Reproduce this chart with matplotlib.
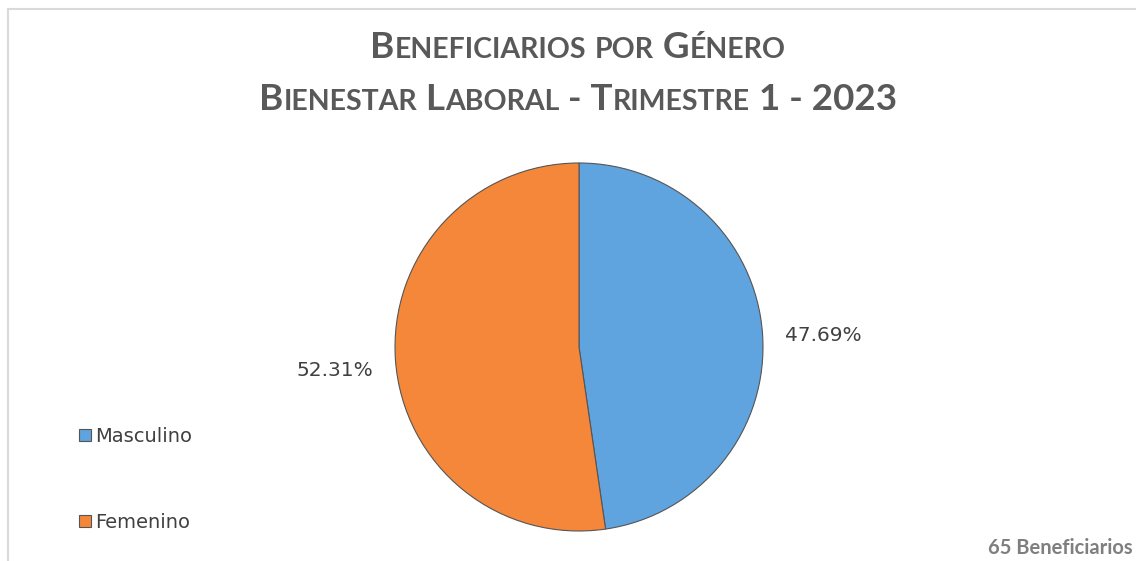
import matplotlib
matplotlib.use('Agg')
import matplotlib.pyplot as plt
from matplotlib.transforms import offset_copy

# data
categories = ['Masculino', 'Femenino']
counts = [31, 34]
colors = ['#5FA3DF', '#F5873A']
title_lines = ['Beneficiarios por Género', 'Bienestar Laboral - Trimestre 1 - 2023']
total_note = '65 Beneficiarios'

W, H = 1136, 561
fig = plt.figure(figsize=(W / 100, H / 100), dpi=100)
renderer = fig.canvas.get_renderer()

TITLE_FONT = 'Lato'
LABEL_FONT = 'DejaVu Sans'


def text_width(s, size):
    # width in pixels, keeping spaces by padding with bars
    t = fig.text(0, 0, '|' + s + '|', fontsize=size, fontweight='bold', family=TITLE_FONT)
    t2 = fig.text(0, 0, '||', fontsize=size, fontweight='bold', family=TITLE_FONT)
    w = t.get_window_extent(renderer).width - t2.get_window_extent(renderer).width
    t.remove()
    t2.remove()
    return w


def small_caps(line, y_px, big, small, color='#595959'):
    # split into runs of lower-case (drawn as small capitals) and the rest
    runs = []
    for ch in line:
        is_small = ch.islower()
        if runs and runs[-1][1] == is_small:
            runs[-1][0] += ch
        else:
            runs.append([ch, is_small])
    pieces = []
    for s, is_small in runs:
        size = small if is_small else big
        s = s.upper()
        pieces.append((s, size, text_width(s, size)))
    total = sum(p[2] for p in pieces)
    x = W / 2 - total / 2 + 10
    for s, size, w in pieces:
        fig.text(x / W, 1 - y_px / H, s, fontsize=size, fontweight='bold',
                 family=TITLE_FONT, color=color, ha='left', va='baseline')
        x += w


small_caps(title_lines[0], 58, 26.5, 20.5)
small_caps(title_lines[1], 110, 26.5, 20.5)

# pie
cx, cy, r = 579, 347, 184
ax = fig.add_axes([(cx - r) / W, (H - cy - r) / H, 2 * r / W, 2 * r / H])
wedges, _, autotexts = ax.pie(counts, colors=colors, startangle=90, counterclock=False,
                              autopct='%.2f%%', pctdistance=1.33, radius=1,
                              wedgeprops=dict(edgecolor='#555555', linewidth=0.8))
for w in wedges:
    w.set_clip_on(False)
for t in autotexts:
    t.set_fontsize(14.5)
    t.set_family(LABEL_FONT)
    t.set_color('#404040')
    t.set_transform(offset_copy(t.get_transform(), fig=fig, y=-6, units='dots'))
ax.set_xlim(-1, 1)
ax.set_ylim(-1, 1)
ax.set_aspect('equal')
ax.axis('off')

leg = fig.legend(wedges, categories, loc='upper left', bbox_to_anchor=(79 / W, 1 - 427 / H),
                 frameon=False, labelspacing=3.45, handlelength=0.6,
                 handleheight=0.6, handletextpad=0.25, borderpad=0, borderaxespad=0,
                 prop=dict(family=LABEL_FONT, size=14))
for t in leg.get_texts():
    t.set_color('#404040')

fig.text(1133 / W, 1 - 554 / H, total_note, fontsize=14.5, fontweight='bold',
         family=TITLE_FONT, color='#7F7F7F', ha='right', va='baseline')

# light chart border on top and left
fig.add_artist(plt.Line2D([8 / W, 8 / W], [0, 1 - 9 / H], color='#DADADA', linewidth=1.5))
fig.add_artist(plt.Line2D([8 / W, 1], [1 - 9 / H, 1 - 9 / H], color='#DADADA', linewidth=1.5))

fig.savefig('out.png', dpi=100)
